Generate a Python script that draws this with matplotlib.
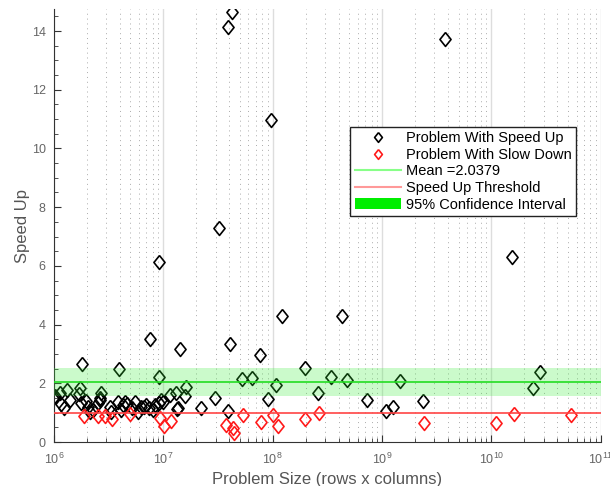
import numpy as np
import matplotlib.pyplot as plt
from matplotlib.lines import Line2D
from matplotlib.patches import Patch
from matplotlib.ticker import LogLocator, MultipleLocator

# problems where the parallel version was faster
up_size = [1.0e6, 1.02e6, 1.13e6, 1.17e6, 1.23e6, 1.31e6, 1.40e6, 1.68e6, 1.74e6,
           1.78e6, 1.81e6, 1.97e6, 2.04e6, 2.12e6, 2.27e6, 2.55e6, 2.62e6, 2.71e6,
           2.65e6, 3.23e6, 3.34e6, 3.84e6, 3.93e6, 4.07e6, 4.3e6, 4.43e6, 4.7e6,
           5.13e6, 5.5e6, 5.9e6, 6.3e6, 6.6e6, 7.0e6, 7.4e6, 7.5e6, 8.1e6, 8.4e6,
           9.06e6, 9.17e6, 9.2e6, 9.6e6, 1.0e7, 1.15e7, 1.30e7, 1.34e7, 1.36e7,
           1.42e7, 1.57e7, 1.61e7, 2.21e7, 2.97e7, 3.2e7, 3.87e7, 3.9e7, 4.07e7,
           4.24e7, 5.26e7, 6.4e7, 7.6e7, 8.97e7, 9.6e7, 1.08e8, 1.21e8, 1.98e8,
           2.6e8, 3.38e8, 4.3e8, 4.8e8, 7.26e8, 1.08e9, 1.27e9, 1.46e9, 2.38e9,
           3.75e9, 1.53e10, 2.41e10, 2.8e10]
up_speed = [1.55, 1.58, 1.66, 1.29, 1.15, 1.77, 1.43, 1.63, 1.83,
            1.34, 2.66, 1.40, 1.20, 1.03, 1.09, 1.33, 1.43, 1.66,
            1.50, 1.20, 1.03, 1.37, 2.48, 1.09, 1.26, 1.37, 1.30,
            1.15, 1.37, 1.03, 1.20, 1.18, 1.26, 1.15, 3.50, 1.09, 1.26,
            6.12, 2.22, 1.32, 1.43, 1.37, 1.60, 1.68, 1.12, 1.15,
            3.17, 1.56, 1.88, 1.15, 1.49, 7.28, 1.07, 14.12, 3.34,
            14.65, 2.13, 2.18, 2.96, 1.46, 10.97, 1.95, 4.28, 2.51,
            1.67, 2.23, 4.29, 2.12, 1.44, 1.07, 1.19, 2.09, 1.39,
            13.73, 6.29, 1.84, 2.40]

# problems where it was slower
down_size = [1.88e6, 2.52e6, 2.91e6, 3.41e6, 4.95e6, 9.3e6, 1.01e7, 1.17e7, 3.73e7,
             4.3e7, 4.45e7, 5.37e7, 7.8e7, 1.0e8, 1.12e8, 1.98e8, 2.66e8, 2.41e9,
             1.11e10, 1.62e10, 5.28e10]
down_speed = [0.90, 0.88, 0.88, 0.79, 0.95, 0.82, 0.55, 0.73, 0.59,
              0.49, 0.30, 0.92, 0.67, 0.93, 0.53, 0.77, 0.99, 0.66,
              0.65, 0.94, 0.93]

mean_speedup = 2.0379
ci_low, ci_high = 1.56, 2.52
threshold = 1.0

plt.rcParams['font.family'] = ['Liberation Sans', 'DejaVu Sans']

# slightly squashed diamond
diamond = [(0, 1), (0.8, 0), (0, -1), (-0.8, 0), (0, 1)]

fig = plt.figure(figsize=(6.1, 4.86), dpi=100)
ax = fig.add_axes([0.0885, 0.0905, 0.8965, 0.891])

ax.plot(up_size, up_speed, linestyle='none', marker=diamond, markersize=10,
        markerfacecolor='none', markeredgecolor='black', markeredgewidth=1.2, zorder=2)
ax.plot(down_size, down_speed, linestyle='none', marker=diamond, markersize=10,
        markerfacecolor='none', markeredgecolor='#ff1a1a', markeredgewidth=1.2, zorder=2)

# confidence band sits on top of the markers
ax.axhspan(ci_low, ci_high, color='#33ee33', alpha=0.25, linewidth=0, zorder=3)
ax.axhline(mean_speedup, color='#22dd22', linewidth=1.2, zorder=4)
ax.axhline(threshold, color='#ff4444', linewidth=1.2, zorder=4)

ax.set_xscale('log')
ax.set_xlim(1e6, 1e11)
ax.set_ylim(0, 14.75)
ax.yaxis.set_major_locator(MultipleLocator(2))
ax.yaxis.set_minor_locator(MultipleLocator(0.5))
ax.xaxis.set_major_locator(LogLocator(base=10, numticks=10))
ax.xaxis.set_minor_locator(LogLocator(base=10, subs=np.arange(2, 10), numticks=20))

ax.grid(True, which='major', axis='x', color='#dddddd', linestyle='-', linewidth=1)
ax.grid(True, which='minor', axis='x', color='#aaaaaa', linestyle=(0, (1, 4)), linewidth=0.7)
ax.set_axisbelow(True)

for side in ['top', 'right']:
    ax.spines[side].set_visible(False)
for side in ['left', 'bottom']:
    ax.spines[side].set_color('#333333')
ax.tick_params(which='both', direction='in', colors='#333333', labelcolor='#666666',
               labelsize=9)
ax.tick_params(which='major', length=5)
ax.tick_params(which='minor', length=3)
ax.tick_params(axis='x', pad=7)
ax.tick_params(axis='y', pad=6)

ax.set_xlabel('Problem Size (rows x columns)', fontsize=12, color='#555555', labelpad=4)
ax.set_ylabel('Speed Up', fontsize=12, color='#555555', labelpad=1)

handles = [
    Line2D([], [], linestyle='none', marker=diamond, markersize=7, markerfacecolor='none',
           markeredgecolor='black', markeredgewidth=1.2),
    Line2D([], [], linestyle='none', marker=diamond, markersize=7, markerfacecolor='none',
           markeredgecolor='#ff1a1a', markeredgewidth=1.2),
    Line2D([], [], color='#88ff88', linewidth=1.5),
    Line2D([], [], color='#ff9999', linewidth=1.5),
    Patch(facecolor='#00ee00', edgecolor='none'),
]
labels = ['Problem With Speed Up', 'Problem With Slow Down', 'Mean =2.0379',
          'Speed Up Threshold', '95% Confidence Interval']
leg = ax.legend(handles, labels, loc='upper left', bbox_to_anchor=(0.542, 0.728),
                fontsize=10.5, frameon=True, fancybox=False, framealpha=1,
                edgecolor='#222222', borderpad=0.3, labelspacing=0.18,
                handlelength=3.2, handletextpad=0.3, borderaxespad=0)
leg.get_frame().set_linewidth(1)
leg.set_zorder(10)

fig.savefig('out.png', dpi=100)
